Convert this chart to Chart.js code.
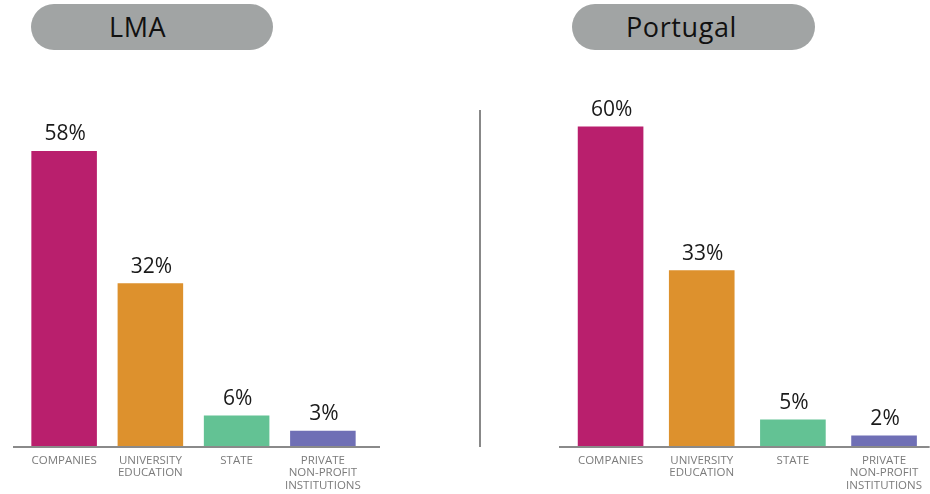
<!DOCTYPE html>
<html>
<head>
<meta charset="utf-8">
<script src="https://cdn.jsdelivr.net/npm/chart.js@4.4.1/dist/chart.umd.min.js"></script>
<style>
  html, body { margin: 0; padding: 0; background: #fff; }
  body { width: 930px; height: 494px; position: relative; overflow: hidden; font-family: "Open Sans", sans-serif; }
  .pill {
    position: absolute; top: 4px; height: 46px; border-radius: 23px;
    background: #a1a4a4; color: #111; font-size: 27px; line-height: 46px; letter-spacing: 0.6px;
  }
  .pill span { position: absolute; top: 0; }
  .divider { position: absolute; left: 479px; top: 110px; width: 2px; height: 337px; background: #888; }
  .box { position: absolute; top: 0; height: 494px; }
</style>
</head>
<body>
<div class="pill" style="left:31px;width:242px"><span style="left:78px">LMA</span></div>
<div class="pill" style="left:572px;width:243px"><span style="left:54px">Portugal</span></div>
<div class="divider"></div>
<div class="box" style="left:0;width:392px"><canvas id="lma"></canvas></div>
<div class="box" style="left:545px;width:385px"><canvas id="pt"></canvas></div>
<script>
// sectors of R&D execution, share of total (%)
const sectors = [
  ['COMPANIES'],
  ['UNIVERSITY', 'EDUCATION'],
  ['STATE'],
  ['PRIVATE', 'NON-PROFIT', 'INSTITUTIONS']
];
const lmaValues = [58, 32, 6, 3];
const portugalValues = [60, 33, 5, 2];
const sectorColors = ['#b91f6d', '#dd912d', '#63c294', '#6f6fb5'];

// percentage label above each bar
const valueLabels = {
  id: 'valueLabels',
  afterDatasetsDraw(chart) {
    const ctx = chart.ctx;
    const meta = chart.getDatasetMeta(0);
    ctx.save();
    ctx.font = '21px "Open Sans", sans-serif';
    ctx.fillStyle = '#1a1a1a';
    ctx.textAlign = 'center';
    ctx.textBaseline = 'bottom';
    meta.data.forEach((bar, i) => {
      const v = chart.data.datasets[0].data[i];
      ctx.fillText(v + '%', bar.x + 1, bar.y - 6);
    });
    ctx.restore();
  }
};

// baseline running a little past the outer bars
const baseline = {
  id: 'baseline',
  afterDatasetsDraw(chart, args, opts) {
    const ctx = chart.ctx;
    const a = chart.chartArea;
    ctx.save();
    ctx.strokeStyle = '#8a8a8a';
    ctx.lineWidth = 2;
    ctx.beginPath();
    ctx.moveTo(a.left - opts.left, a.bottom + 1);
    ctx.lineTo(a.right + opts.right, a.bottom + 1);
    ctx.stroke();
    ctx.restore();
  }
};

function makeChart(id, values, yMax, pad, barPct, ext) {
  return new Chart(document.getElementById(id), {
    type: 'bar',
    data: {
      labels: sectors,
      datasets: [{
        data: values,
        backgroundColor: sectorColors,
        barPercentage: barPct,
        categoryPercentage: 1
      }]
    },
    options: {
      responsive: true,
      maintainAspectRatio: false,
      animation: false,
      layout: { padding: pad },
      plugins: {
        legend: { display: false },
        tooltip: { enabled: false },
        baseline: ext
      },
      scales: {
        y: { display: false, min: 0, max: yMax },
        x: {
          grid: { display: false, drawTicks: false },
          border: { display: false },
          ticks: {
            color: '#7b7b7b',
            font: { family: '"Open Sans", sans-serif', size: 11.5, lineHeight: 1.1 },
            padding: 8,
            maxRotation: 0,
            autoSkip: false
          }
        }
      }
    },
    plugins: [valueLabels, baseline]
  });
}

makeChart('lma', lmaValues, 68, { top: 100, left: 21, right: 26, bottom: -6 }, 0.76, { left: 8, right: 14 });
makeChart('pt', portugalValues, 65, { top: 100, left: 20, right: 0, bottom: -6 }, 0.72, { left: 6, right: 0 });
</script>
</body>
</html>
